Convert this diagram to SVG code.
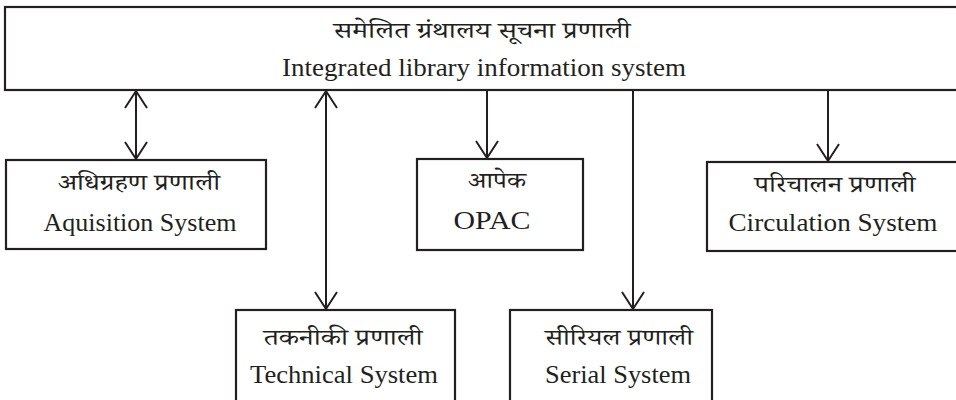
<svg xmlns="http://www.w3.org/2000/svg" width="956" height="400" viewBox="0 0 956 400">
<style>
.box{fill:#fff;stroke:#231f20;stroke-width:2.2}
.ln{stroke:#231f20;stroke-width:2;fill:none}
.en{font-family:"Liberation Serif","Times New Roman",serif;font-size:26px;fill:#231f20;text-anchor:middle}
.hi{font-family:"Noto Serif Devanagari","Noto Sans Devanagari","Lohit Devanagari","Mukta","Noto Sans",sans-serif;font-size:23px;fill:#231f20;text-anchor:middle}
</style>
<defs>
<marker id="ah" viewBox="0 0 24 24" refX="20" refY="12" markerWidth="24" markerHeight="24" markerUnits="userSpaceOnUse" orient="auto-start-reverse">
<path d="M3,1 L20,12 L3,23" fill="none" stroke="#231f20" stroke-width="2"/>
</marker>
</defs>
<rect width="956" height="400" fill="#fff"/>
<g id="ils">
<rect class="box" x="5" y="7" width="960" height="83"/>
<text class="hi" x="482" y="38" textLength="297" lengthAdjust="spacingAndGlyphs">समेलित ग्रंथालय सूचना प्रणाली</text>
<text class="en" x="484" y="76" font-size="28" textLength="404" lengthAdjust="spacingAndGlyphs">Integrated library information system</text>
</g>
<g id="connectors">
<line class="ln" x1="136" y1="91" x2="136" y2="159" marker-start="url(#ah)" marker-end="url(#ah)"/>
<line class="ln" x1="326" y1="91" x2="326" y2="309" marker-start="url(#ah)" marker-end="url(#ah)"/>
<line class="ln" x1="487" y1="90" x2="487" y2="158" marker-end="url(#ah)"/>
<line class="ln" x1="633" y1="90" x2="633" y2="309" marker-end="url(#ah)"/>
<line class="ln" x1="828" y1="90" x2="828" y2="161" marker-end="url(#ah)"/>
</g>
<g id="acquisition">
<rect class="box" x="6" y="160" width="260" height="89"/>
<text class="hi" x="139" y="190" textLength="162" lengthAdjust="spacingAndGlyphs">अधिग्रहण प्रणाली</text>
<text class="en" x="140" y="231" textLength="193" lengthAdjust="spacingAndGlyphs">Aquisition System</text>
</g>
<g id="opac">
<rect class="box" x="417" y="159" width="166" height="91"/>
<text class="hi" x="497" y="188" textLength="58" lengthAdjust="spacingAndGlyphs">आपेक</text>
<text class="en" x="492" y="229" textLength="77" lengthAdjust="spacingAndGlyphs">OPAC</text>
</g>
<g id="circulation">
<rect class="box" x="707" y="162" width="260" height="89"/>
<text class="hi" x="835" y="192" textLength="161" lengthAdjust="spacingAndGlyphs">परिचालन प्रणाली</text>
<text class="en" x="833" y="231" textLength="209" lengthAdjust="spacingAndGlyphs">Circulation System</text>
</g>
<g id="technical">
<rect class="box" x="236" y="310" width="219" height="100"/>
<text class="hi" x="343" y="345" textLength="159" lengthAdjust="spacingAndGlyphs">तकनीकी प्रणाली</text>
<text class="en" x="344" y="383" textLength="188" lengthAdjust="spacingAndGlyphs">Technical System</text>
</g>
<g id="serial">
<rect class="box" x="510" y="310" width="202" height="100"/>
<text class="hi" x="619" y="345" textLength="148" lengthAdjust="spacingAndGlyphs">सीरियल प्रणाली</text>
<text class="en" x="618" y="383" textLength="146" lengthAdjust="spacingAndGlyphs">Serial System</text>
</g>
</svg>
